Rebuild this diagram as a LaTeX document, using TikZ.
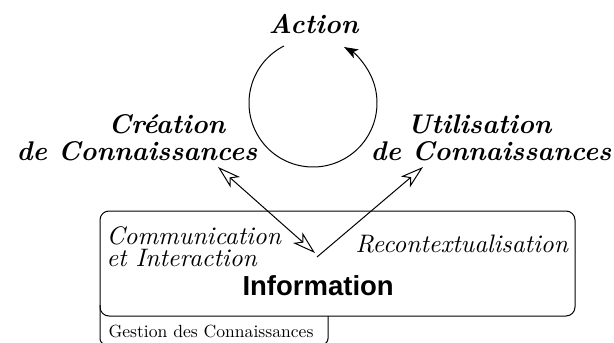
\documentclass[tikz,border=0pt]{standalone}
\usepackage{fontspec}
\newfontfamily\infofont{Liberation Sans}
\newfontfamily\tenit{lmroman10-italic.otf}
\newfontfamily\tenrm{lmroman10-regular.otf}
\usetikzlibrary{arrows.meta,calc}
\begin{document}
\begin{tikzpicture}[x=1pt,y=-1pt,
  line width=1pt,
  title/.style={font=\fontsize{27}{30}\selectfont\bfseries\itshape, inner sep=0pt, anchor=base},
  lbl/.style={font=\fontsize{25.3}{22}\selectfont\tenit, inner sep=0pt, anchor=base west, align=left},
  ohead/.tip={Stealth[open,length=23pt,width=14pt,inset=6pt,line width=1pt]},
  openhead/.style={-ohead},
  bothhead/.style={ohead-ohead},
  fillhead/.style={-{Stealth[length=14pt,width=10pt,inset=3.5pt]}}]
\useasboundingbox (0,0) rectangle (614,343);
% titles
\node[title] (action) at (313.5,33) {Action};
\node[title] (creA) at (167,133) {Création};
\node[title] (creB) at (137,160) {de Connaissances};
\node[title] (utiA) at (479.5,133) {Utilisation};
\node[title] (utiB) at (491,160) {de Connaissances};
% cycle arc
\coordinate (cyc) at (313,103);
\draw[fillhead] ($(cyc)+(-117:64)$) arc[start angle=-117, end angle=-421, radius=64];
% box and tab
\draw[rounded corners=9pt] (100,211) rectangle (575,316);
\draw[rounded corners=6pt] (100,305) -- (100,344.5) -- (328,344.5) -- (328,316);
\node[lbl] (com) at (106,266) {Communication\\et Interaction};
\node[lbl] (recon) at (355,252) {Recontextualisation};
\node[font=\fontsize{27.5}{30}\selectfont\infofont\bfseries, inner sep=0pt, anchor=base west] (info) at (242,295) {Information};
\node[font=\fontsize{17.6}{20}\selectfont\tenrm, inner sep=0pt, anchor=base west] (gest) at (108,337) {Gestion des Connaissances};
% connectors
\coordinate (creTip) at (218,167);
\coordinate (infoL) at (315,253);
\coordinate (infoR) at (317,257);
\coordinate (utiTip) at (423,167);
\draw[bothhead] (creTip) -- (infoL);
\draw[openhead] (infoR) -- (utiTip);
\end{tikzpicture}
\end{document}
